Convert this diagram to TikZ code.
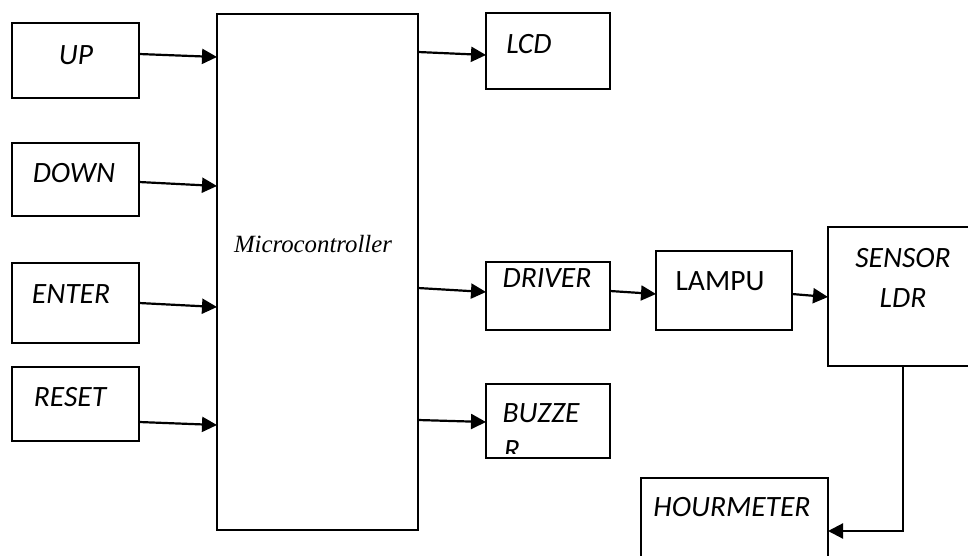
\documentclass[tikz,border=0pt]{standalone}
\usepackage{fontspec}
\usetikzlibrary{arrows.meta}
\newfontfamily\calfont{Carlito}
\newfontfamily\tmsfont{Liberation Serif}
\begin{document}
\begin{tikzpicture}[x=1pt,y=1pt,
  blk/.style={draw=black,line width=1.8pt,inner sep=0pt,outer sep=0pt,anchor=north west,fill=white},
  lbl/.style={inner sep=0pt,font=\calfont\itshape\fontsize{29.5}{31}\selectfont},
  arr/.style={line width=2.2pt,-{Triangle[length=15pt,width=15pt]}}]
\useasboundingbox (0,0) rectangle (968,-556);
% boxes
\node[blk,minimum width=127pt,minimum height=75pt] (up) at (12,-23) {};
\node[blk,minimum width=127pt,minimum height=73pt] (down) at (12,-143) {};
\node[blk,minimum width=127pt,minimum height=80pt] (enter) at (12,-263) {};
\node[blk,minimum width=127pt,minimum height=74pt] (reset) at (12,-367) {};
\node[blk,minimum width=201pt,minimum height=516pt] (micro) at (217,-14) {};
\node[blk,minimum width=124pt,minimum height=76pt] (lcd) at (486,-13) {};
\node[blk,minimum width=124pt,minimum height=68pt] (driver) at (486,-262) {};
\node[blk,minimum width=124pt,minimum height=74pt] (buzzer) at (486,-384) {};
\node[blk,minimum width=136pt,minimum height=79pt] (lampu) at (656,-251) {};
\node[blk,minimum width=150pt,minimum height=139pt] (sensor) at (828,-227) {};
\node[blk,minimum width=187pt,minimum height=106pt] (hour) at (641,-478) {};
% labels
\node[lbl] (tup) at (76,-55) {UP};
\node[lbl] (tdown) at (74,-173) {DOWN};
\node[lbl] (tenter) at (71,-294) {ENTER};
\node[lbl] (treset) at (70,-397) {RESET};
\node[lbl] (tlcd) at (529,-44) {LCD};
\node[lbl] (tdriver) at (547,-278) {DRIVER};
\node[lbl] (tbuzz) at (541,-413) {BUZZE};
\begin{scope}
\clip (488,-386) rectangle (608,-453);
\node[lbl] (tbuzzr) at (512,-450) {R};
\end{scope}
\node[inner sep=0pt,font=\calfont\fontsize{29.5}{31}\selectfont] (tlampu) at (720,-281) {LAMPU};
\node[lbl] (tsensor) at (903,-258) {SENSOR};
\node[lbl] (tldr) at (903,-298) {LDR};
\node[lbl] (thour) at (732,-507) {HOURMETER};
\node[inner sep=0pt,font=\tmsfont\itshape\fontsize{24.8}{26}\selectfont] (tmicro) at (313,-244) {Microcontroller};
% connectors
\draw[arr] ([yshift=6.5pt]up.east) -- ([yshift=215pt]micro.west);
\draw[arr] ([yshift=-2.5pt]down.east) -- ([yshift=86pt]micro.west);
\draw[arr] (enter.east) -- ([yshift=-35pt]micro.west);
\draw[arr] ([yshift=-18pt]reset.east) -- ([yshift=-153pt]micro.west);
\draw[arr] ([yshift=220pt]micro.east) -- ([yshift=-4pt]lcd.west);
\draw[arr] ([yshift=-16pt]micro.east) -- ([yshift=4pt]driver.west);
\draw[arr] ([yshift=-148pt]micro.east) -- ([yshift=-1pt]buzzer.west);
\draw[arr] ([yshift=5pt]driver.east) -- ([yshift=-3.5pt]lampu.west);
\draw[arr] ([yshift=-3.5pt]lampu.east) -- ([yshift=-0.5pt]sensor.west);
\draw[arr] (sensor.south) |- (hour.east);
\end{tikzpicture}
\end{document}
